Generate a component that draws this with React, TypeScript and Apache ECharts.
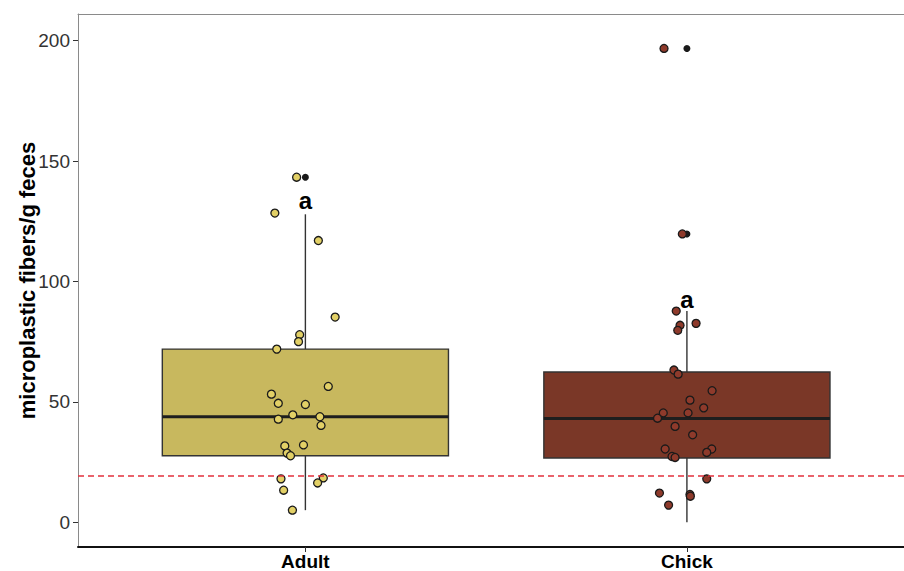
import React, { useEffect, useRef } from "react";
import * as echarts from "echarts";

// Categories and their positions on the x scale
const categories = ["Adult", "Chick"];
const categoryPos = [1, 2];

// Box statistics: [lower whisker, Q1, median, Q3, upper whisker]
const adultBox = [5.0, 27.6, 43.8, 71.9, 127.9];
const chickBox = [0, 26.7, 43.1, 62.4, 87.7];

// Outliers (drawn at category centre)
const adultOutliers = [143.3];
const chickOutliers = [196.8, 119.75];

// Jittered observations: values and horizontal jitter offsets (category units)
const adultValues = [143.3, 128.4, 117.0, 85.2, 77.9, 75.0, 71.9, 56.4, 53.2, 49.4, 48.9, 44.6, 43.8, 42.8, 40.2, 31.7, 32.1, 28.7, 27.6, 18.0, 18.4, 16.3, 13.3, 5.0];
const adultJitter = [-0.023, -0.08, 0.034, 0.078, -0.015, -0.018, -0.075, 0.06, -0.089, -0.071, 0.0, -0.033, 0.038, -0.071, 0.041, -0.054, -0.005, -0.048, -0.039, -0.064, 0.047, 0.032, -0.057, -0.034];

const chickValues = [196.8, 119.75, 87.7, 82.6, 81.8, 79.7, 63.2, 61.5, 54.6, 50.7, 47.5, 45.4, 45.4, 43.2, 39.8, 36.3, 30.4, 30.4, 29.0, 27.3, 26.9, 18.0, 12.1, 11.5, 10.8, 7.1];
const chickJitter = [-0.06, -0.012, -0.028, 0.024, -0.018, -0.024, -0.034, -0.023, 0.066, 0.008, 0.044, -0.062, 0.003, -0.077, -0.031, 0.015, -0.057, 0.065, 0.052, -0.039, -0.031, 0.052, -0.072, 0.008, 0.009, -0.048];

// Significance letters: [label, y value]
const letters = ["a", "a"];
const letterY = [133.5, 92.7];

// Detection limit (dashed line)
const thresholdValue = 19.1;

const yTicks = [0, 50, 100, 150, 200];

const boxColors = ["#c8b85e", "#7a3727"];
const pointColors = ["#e2d066", "#8e3a2b"];
const FONT = "Liberation Sans, Arial, sans-serif";

export default function App() {
  const ref = useRef<HTMLDivElement>(null);

  useEffect(() => {
    if (!ref.current) return;
    const chart = echarts.init(ref.current, null, { renderer: "svg" });

    const boxData = [
      [categoryPos[0], ...adultBox],
      [categoryPos[1], ...chickBox],
    ];
    const boxWidth = 0.75;

    const option: any = {
      animation: false,
      backgroundColor: "#ffffff",
      grid: {
        left: 78,
        right: 0,
        top: 14,
        bottom: 24,
        show: false,
        containLabel: false,
        outerBoundsMode: "none",
      },
      xAxis: [
        {
          type: "value",
          min: 0.404,
          max: 2.569,
          splitLine: { show: false },
          axisLine: { show: true, onZero: false, lineStyle: { color: "#111", width: 2 } },
          axisTick: {
            show: true,
            customValues: categoryPos,
            length: 5,
            lineStyle: { color: "#333", width: 1 },
          },
          axisLabel: {
            customValues: categoryPos,
            formatter: (v: number) => categories[categoryPos.indexOf(Math.round(v))] ?? "",
            color: "#000",
            fontSize: 19,
            lineHeight: 19,
            fontWeight: "bold",
            fontFamily: FONT,
            margin: 5,
          },
        },
        {
          type: "value",
          position: "top",
          min: 0.404,
          max: 2.569,
          splitLine: { show: false },
          axisLine: { show: true, onZero: false, lineStyle: { color: "#8a8a8a", width: 1 } },
          axisTick: { show: false },
          axisLabel: { show: false },
        },
      ],
      yAxis: {
        type: "value",
        min: -10.3,
        max: 211.1,
        name: "microplastic fibers/g feces",
        nameLocation: "middle",
        nameRotate: 90,
        nameGap: 40,
        nameMoveOverlap: false,
        nameTextStyle: {
          color: "#000",
          fontSize: 22,
          fontWeight: "bold",
          fontFamily: FONT,
        },
        splitLine: { show: false },
        axisLine: { show: true, onZero: false, lineStyle: { color: "#8a8a8a", width: 1 } },
        axisTick: {
          show: true,
          customValues: yTicks,
          length: 5,
          lineStyle: { color: "#333", width: 1 },
        },
        axisLabel: {
          customValues: yTicks,
          color: "#333",
          fontSize: 19,
          fontFamily: FONT,
          margin: 8,
        },
      },
      series: [
        {
          type: "custom",
          name: "box",
          data: boxData,
          encode: { x: 0, y: [1, 2, 3, 4, 5] },
          z: 2,
          renderItem: (params: any, api: any) => {
            const x = api.value(0);
            const low = api.coord([x, api.value(1)]);
            const q1 = api.coord([x, api.value(2)]);
            const med = api.coord([x, api.value(3)]);
            const q3 = api.coord([x, api.value(4)]);
            const high = api.coord([x, api.value(5)]);
            const w = api.size([boxWidth, 0])[0];
            const stroke = "#333333";
            return {
              type: "group",
              children: [
                {
                  type: "line",
                  shape: { x1: low[0], y1: low[1], x2: q1[0], y2: q1[1] },
                  style: { stroke, lineWidth: 1.4 },
                },
                {
                  type: "line",
                  shape: { x1: q3[0], y1: q3[1], x2: high[0], y2: high[1] },
                  style: { stroke, lineWidth: 1.4 },
                },
                {
                  type: "rect",
                  shape: { x: q3[0] - w / 2, y: q3[1], width: w, height: q1[1] - q3[1] },
                  style: { fill: boxColors[params.dataIndex], stroke, lineWidth: 1.4 },
                },
                {
                  type: "line",
                  shape: { x1: med[0] - w / 2, y1: med[1], x2: med[0] + w / 2, y2: med[1] },
                  style: { stroke: "#1e1e1e", lineWidth: 3 },
                },
              ],
            };
          },
          markLine: {
            silent: true,
            symbol: "none",
            label: { show: false },
            lineStyle: { color: "#e2303c", type: [6, 4], width: 1.6 },
            data: [{ yAxis: thresholdValue }],
          },
        },
        {
          type: "scatter",
          name: "Adult",
          z: 4,
          symbol: "circle",
          symbolSize: 8,
          itemStyle: { color: pointColors[0], borderColor: "#1a1a1a", borderWidth: 1.3, opacity: 1 },
          data: adultValues.map((v, i) => [categoryPos[0] + adultJitter[i], v]),
        },
        {
          type: "scatter",
          name: "Chick",
          z: 4,
          symbol: "circle",
          symbolSize: 8,
          itemStyle: { color: pointColors[1], borderColor: "#1a1a1a", borderWidth: 1.3, opacity: 1 },
          data: chickValues.map((v, i) => [categoryPos[1] + chickJitter[i], v]),
        },
        {
          type: "scatter",
          name: "outliers",
          z: 3,
          symbol: "circle",
          symbolSize: 7,
          itemStyle: { color: "#1a1a1a", opacity: 1 },
          data: [
            ...adultOutliers.map((v) => [categoryPos[0], v]),
            ...chickOutliers.map((v) => [categoryPos[1], v]),
          ],
        },
        {
          type: "scatter",
          name: "letters",
          z: 5,
          symbolSize: 0,
          silent: true,
          itemStyle: { color: "transparent", opacity: 1 },
          label: {
            show: true,
            position: "inside",
            formatter: (p: any) => letters[p.dataIndex],
            color: "#000",
            textBorderWidth: 0,
            fontSize: 24,
            fontWeight: "bold",
            fontFamily: FONT,
          },
          data: letterY.map((v, i) => [categoryPos[i], v]),
        },
      ],
    };

    chart.setOption(option);
    return () => chart.dispose();
  }, []);

  return (
    <div
      ref={ref}
      style={{ position: "fixed", left: 0, top: 0, width: 904, height: 571, background: "#fff" }}
    />
  );
}
